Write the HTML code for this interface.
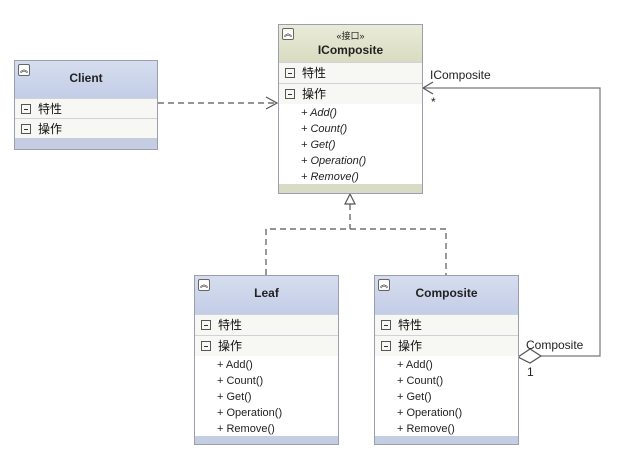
<!DOCTYPE html>
<html><head><meta charset="utf-8"><style>
body{margin:0;width:622px;height:475px;background:#fff;position:relative;overflow:hidden;font-family:"Liberation Sans","Noto Sans CJK SC",sans-serif;}
.box{position:absolute;border:1px solid #9a9fae;background:#fff;box-sizing:border-box;}
.hd{position:absolute;left:0;right:0;top:0;background:linear-gradient(#d6ddef,#c3cde6);}
.g .hd{background:linear-gradient(#e9ebd9,#d9dcc0);}
.ic{position:absolute;left:3px;top:3px;width:10px;height:10px;border:1px solid #666;border-radius:2px;background:#fff;font-size:8px;line-height:10px;text-align:center;}
.t{position:absolute;left:0;right:0;text-align:center;font-weight:bold;font-size:12px;color:#222;}
.row{position:absolute;left:0;right:0;border-top:1px solid #cfd2d8;background:#f7f7f3;font-size:12px;color:#111;}
.row span.m{display:inline-block;width:8px;height:8px;border:1px solid #555;margin:0 7px 0 6px;vertical-align:-1px;position:relative;}
.row span.m:after{content:"";position:absolute;left:2px;right:2px;top:3.5px;height:1px;background:#333;}
.meth{position:absolute;left:22px;font-size:11px;color:#222;line-height:16px;}
.bt{position:absolute;left:0;right:0;bottom:0;background:#c5cde3;}
.g .bt{background:#d9dcc4;}
.lbl{position:absolute;font-size:12px;color:#222;}
</style></head><body>
<svg width="622" height="475" style="position:absolute;left:0;top:0">
<g stroke="#555" fill="none" stroke-width="1.2">
<line x1="158" y1="103" x2="276" y2="103" stroke-dasharray="6,4"/>
<polyline points="266,97 277,103 266,109"/>
<line x1="350" y1="204" x2="350" y2="229" stroke-dasharray="6,4"/>
<polyline points="266,275 266,229 446,229 446,275" stroke-dasharray="6,4"/>
<polygon points="350,194 345,204 355,204" fill="#fff"/>
<polyline points="541,356 600,356 600,88 423,88" stroke="#777"/>
<polyline points="433,82 423,88 433,94"/>
<polygon points="518,357 530,349 541,356 530,363" fill="#fff"/>
</g></svg>

<div class="box" style="left:14px;top:60px;width:144px;height:90px">
<div class="hd" style="height:37px"></div><div class="ic">︽</div>
<div class="t" style="top:10px">Client</div>
<div class="row" style="top:37px;height:20px;line-height:20px"><span class="m"></span>特性</div>
<div class="row" style="top:57px;height:20px;line-height:20px"><span class="m"></span>操作</div>
<div class="bt" style="height:11px"></div></div>

<div class="box g" style="left:278px;top:24px;width:145px;height:170px">
<div class="hd" style="height:37px"></div><div class="ic">︽</div>
<div class="t" style="top:4px;font-weight:normal;font-size:9px">«接口»</div>
<div class="t" style="top:18px">IComposite</div>
<div class="row" style="top:37px;height:21px;line-height:21px"><span class="m"></span>特性</div>
<div class="row" style="top:58px;height:20px;line-height:20px"><span class="m"></span>操作</div>
<div class="meth" style="top:80px;font-style:italic">+ Add()<br>+ Count()<br>+ Get()<br>+ Operation()<br>+ Remove()</div>
<div class="bt" style="height:9px"></div></div>

<div class="box" style="left:194px;top:275px;width:145px;height:170px">
<div class="hd" style="height:38px"></div><div class="ic">︽</div>
<div class="t" style="top:10px">Leaf</div>
<div class="row" style="top:38px;height:21px;line-height:21px"><span class="m"></span>特性</div>
<div class="row" style="top:59px;height:20px;line-height:20px"><span class="m"></span>操作</div>
<div class="meth" style="top:81px">+ Add()<br>+ Count()<br>+ Get()<br>+ Operation()<br>+ Remove()</div>
<div class="bt" style="height:8px"></div></div>

<div class="box" style="left:374px;top:275px;width:145px;height:170px">
<div class="hd" style="height:38px"></div><div class="ic">︽</div>
<div class="t" style="top:10px">Composite</div>
<div class="row" style="top:38px;height:21px;line-height:21px"><span class="m"></span>特性</div>
<div class="row" style="top:59px;height:20px;line-height:20px"><span class="m"></span>操作</div>
<div class="meth" style="top:81px">+ Add()<br>+ Count()<br>+ Get()<br>+ Operation()<br>+ Remove()</div>
<div class="bt" style="height:8px"></div></div>

<div class="lbl" style="left:430px;top:68px">IComposite</div>
<div class="lbl" style="left:431px;top:95px">*</div>
<div class="lbl" style="left:526px;top:338px">Composite</div>
<div class="lbl" style="left:527px;top:365px">1</div>
</body></html>
